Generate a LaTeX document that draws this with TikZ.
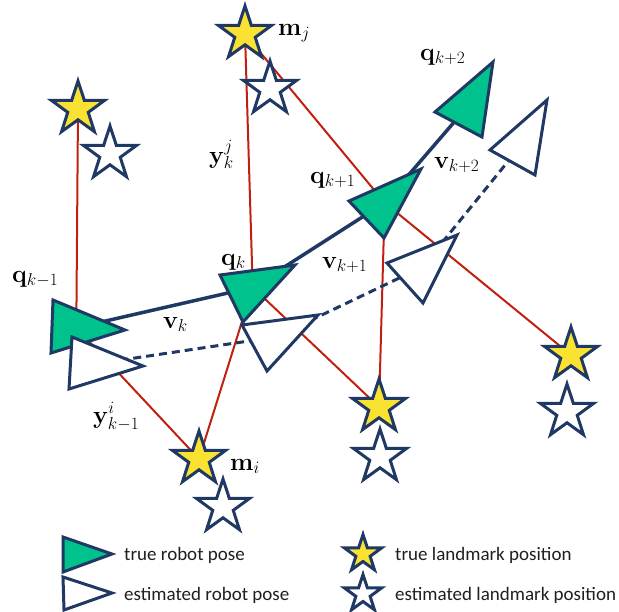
\documentclass[tikz,border=0pt]{standalone}
\usepackage[no-math]{fontspec}
\newfontfamily\legendfont{Carlito}
\DeclareMathSizes{23}{23}{18.5}{14}
\usetikzlibrary{shapes.geometric}
\definecolor{navy}{RGB}{31,56,100}
\definecolor{tgreen}{RGB}{0,194,140}
\definecolor{lyellow}{RGB}{250,226,50}
\definecolor{obsred}{RGB}{192,32,16}
\tikzset{
  lmk/.style={star, star points=5, star point ratio=2.6, inner sep=0pt, minimum size=56pt, draw=navy, line width=3pt},
  truelmk/.style={lmk, fill=lyellow},
  estlmk/.style={lmk, fill=white},
  smalllmk/.style={minimum size=39pt},
  truepose/.style={draw=navy, fill=tgreen, line width=3pt, line join=miter},
  estpose/.style={draw=navy, fill=white, line width=3pt, line join=miter},
  obs/.style={draw=obsred, line width=2pt},
  traj/.style={draw=navy, line width=3.5pt},
  esttraj/.style={draw=navy, line width=3pt, dash pattern=on 8pt off 5pt},
  lbl/.style={anchor=base west, inner sep=0pt, font=\fontsize{23}{27}\selectfont},
  legtxt/.style={anchor=base west, inner sep=0pt, font=\legendfont\fontsize{19}{23}\selectfont, text=black!88}
}
\begin{document}
\begin{tikzpicture}[x=1pt,y=-1pt]
\useasboundingbox (0,0) rectangle (619,611);
% pose centres
\coordinate (qa) at (76.3,327.7);
\coordinate (qb) at (252.7,287.3);
\coordinate (qc) at (384.7,202.7);
\coordinate (qd) at (470,103.7);
\coordinate (ea) at (94.7,364);
\coordinate (eb) at (275.7,337);
\coordinate (ec) at (422.3,267);
\coordinate (ed) at (524,141.7);
% landmark positions
\coordinate (sA) at (78,109);
\coordinate (sJ) at (245,34);
\coordinate (sI) at (199,459);
\coordinate (sM) at (379,407);
\coordinate (sR) at (571,355);
% observations
\draw[obs] (sA) -- (qa);
\draw[obs] (sJ) -- (qb);
\draw[obs] (sJ) -- (qc);
\draw[obs] (qb) -- (sM);
\draw[obs] (qc) -- (sM);
\draw[obs] (qc) -- (sR);
\draw[obs] (qb) -- (sI);
\draw[obs] (qa) -- (sI);
% trajectories
\draw[traj] (qa) -- (qb) -- (qc) -- (qd);
\draw[esttraj] (ea) -- (eb) -- (ec) -- (ed);
% true poses
\draw[truepose] (53,300) -- (51,353) -- (125,330) -- cycle;
\draw[truepose] (220,275) -- (295,265) -- (243,322) -- cycle;
\draw[truepose] (349,201) -- (421,169) -- (384,238) -- cycle;
\draw[truepose] (493,62) -- (435,112) -- (482,137) -- cycle;
% estimated poses
\draw[estpose] (72,337) -- (69,389) -- (143,366) -- cycle;
\draw[estpose] (242,325) -- (318,315) -- (267,371) -- cycle;
\draw[estpose] (387,263) -- (457,235) -- (423,303) -- cycle;
\draw[estpose] (547,100) -- (490,150) -- (535,175) -- cycle;
% landmarks
\node[truelmk] (lA) at (sA) {};
\node[estlmk] (lAe) at (110,154) {};
\node[truelmk] (lJ) at (sJ) {};
\node[estlmk] (lJe) at (270,89) {};
\node[truelmk] (lI) at (sI) {};
\node[estlmk] (lIe) at (223,507) {};
\node[truelmk] (lM) at (sM) {};
\node[estlmk] (lMe) at (380,457) {};
\node[truelmk] (lR) at (sR) {};
\node[estlmk] (lRe) at (567,412) {};
% labels
\node[lbl] (tmj) at (278,35) {$\mathbf{m}_j$};
\node[lbl] (tmi) at (230,470) {$\mathbf{m}_i$};
\node[lbl] (tqa) at (12,282) {$\mathbf{q}_{k-1}$};
\node[lbl] (tqb) at (221,265) {$\mathbf{q}_{k}$};
\node[lbl] (tqc) at (310,183) {$\mathbf{q}_{k+1}$};
\node[lbl] (tqd) at (420,60) {$\mathbf{q}_{k+2}$};
\node[lbl] (tvb) at (163,328) {$\mathbf{v}_{k}$};
\node[lbl] (tvc) at (322,268) {$\mathbf{v}_{k+1}$};
\node[lbl] (tvd) at (434,168) {$\mathbf{v}_{k+2}$};
\node[lbl] (tyj) at (209,163) {$\mathbf{y}_k^j$};
\node[lbl] (tyi) at (93,423) {$\mathbf{y}_{k-1}^i$};
% legend
\draw[truepose] (63,537) -- (63,572) -- (112,554) -- cycle;
\draw[estpose] (63,577) -- (64,610) -- (112,593) -- cycle;
\node[legtxt] (l1) at (124,560) {true robot pose};
\node[legtxt] (l2) at (124,600) {estimated robot pose};
\node[truelmk, smalllmk] (ls1) at (363,554) {};
\node[estlmk, smalllmk] (ls2) at (363,594) {};
\node[legtxt] (l3) at (395,560) {true landmark position};
\node[legtxt] (l4) at (395,600) {estimated landmark position};
\end{tikzpicture}
\end{document}
